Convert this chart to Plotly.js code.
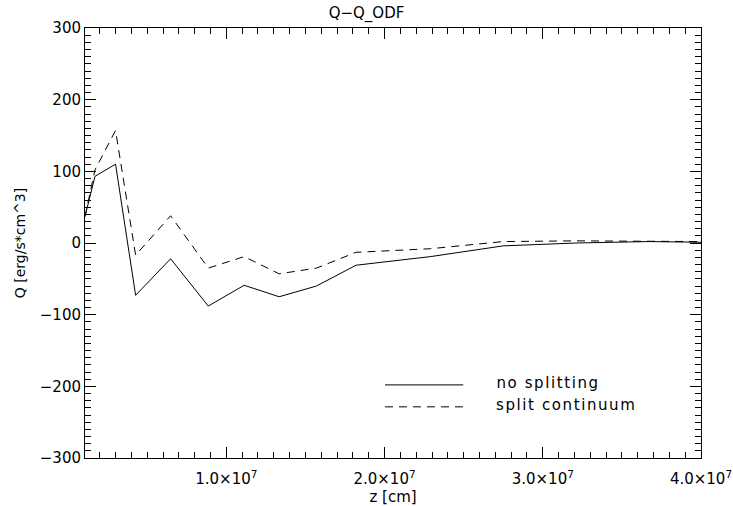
<!DOCTYPE html>
<html>
<head>
<meta charset="utf-8">
<script src="https://cdn.plot.ly/plotly-3.0.1.min.js"></script>
<style>
html,body{margin:0;padding:0;background:#fff;}
#chart{width:733px;height:506px;}
#chart .annotation-text{letter-spacing:1.6px;}
</style>
</head>
<body>
<div id="chart"></div>
<script>
// Data
const zValues = [1.07e6, 1.7e6, 3.0e6, 4.27e6, 6.48e6, 8.86e6, 11.13e6, 13.34e6, 15.7e6, 18.2e6, 22.9e6, 27.5e6, 32.1e6, 36.7e6, 40.0e6];
const noSplitting = [37, 93, 110, -73, -22, -88, -59, -75, -60, -31, -19, -4, 0, 2, 1];
const splitContinuum = [37, 102, 157, -17, 38, -35, -19, -43, -35, -13, -8, 2, 3, 3, 2];
const xTickVals = [1e7, 2e7, 3e7, 4e7];
const xTickText = ['1.0×10<sup>7</sup>', '2.0×10<sup>7</sup>', '3.0×10<sup>7</sup>', '4.0×10<sup>7</sup>'];
const yTickVals = [-300, -200, -100, 0, 100, 200, 300];
const legendNames = ['no splitting', 'split continuum'];

const font = {family: 'DejaVu Sans, sans-serif', size: 15, color: '#000'};

const traces = [
  {x: zValues, y: noSplitting, type: 'scatter', mode: 'lines', name: legendNames[0],
   line: {color: '#000', width: 1}},
  {x: zValues, y: splitContinuum, type: 'scatter', mode: 'lines', name: legendNames[1],
   line: {color: '#000', width: 1, dash: '8px,6px'}}
];

const axisCommon = {
  showgrid: false, zeroline: false, showline: true, linecolor: '#000', linewidth: 1,
  mirror: 'ticks', ticks: 'inside', ticklen: 11, tickcolor: '#000', tickwidth: 1,
  tickfont: font
};

const layout = {
  width: 733, height: 506,
  margin: {l: 85, r: 32, t: 28, b: 48},
  paper_bgcolor: '#fff', plot_bgcolor: '#fff',
  showlegend: false,
  font: font,
  title: {text: 'Q−Q_ODF', font: {family: font.family, size: 15, color: '#000'}, x: 0.5, xanchor: 'center', y: 0.985, yanchor: 'top'},
  xaxis: Object.assign({}, axisCommon, {
    range: [1.07e6, 4.0e7], tickmode: 'array', tickvals: xTickVals, ticktext: xTickText,
    ticklabelstandoff: 7,
    minor: {dtick: 1e6, tick0: 0, ticks: 'inside', ticklen: 6, tickcolor: '#000', tickwidth: 1},
    title: {text: 'z [cm]', font: {family: font.family, size: 15, color: '#000'}, standoff: 1}
  }),
  yaxis: Object.assign({}, axisCommon, {
    range: [-300, 300], tickmode: 'array', tickvals: yTickVals,
    minor: {dtick: 10, tick0: 0, ticks: 'inside', ticklen: 6, tickcolor: '#000', tickwidth: 1},
    title: {text: 'Q [erg/s*cm^3]', font: {family: font.family, size: 14, color: '#000'}, standoff: 10}
  }),
  shapes: [
    {type: 'line', xref: 'paper', yref: 'paper', x0: 0.487, x1: 0.614, y0: 0.170, y1: 0.170, line: {color: '#000', width: 1}},
    {type: 'line', xref: 'paper', yref: 'paper', x0: 0.487, x1: 0.614, y0: 0.119, y1: 0.119, line: {color: '#000', width: 1, dash: '8px,6px'}}
  ],
  annotations: [
    {xref: 'paper', yref: 'paper', x: 0.669, y: 0.174, xanchor: 'left', yanchor: 'middle', xshift: 7, text: legendNames[0], showarrow: false, font: font},
    {xref: 'paper', yref: 'paper', x: 0.669, y: 0.123, xanchor: 'left', yanchor: 'middle', xshift: 9, text: legendNames[1], showarrow: false, font: font}
  ]
};

Plotly.newPlot('chart', traces, layout, {displayModeBar: false, staticPlot: true});
</script>
</body>
</html>
